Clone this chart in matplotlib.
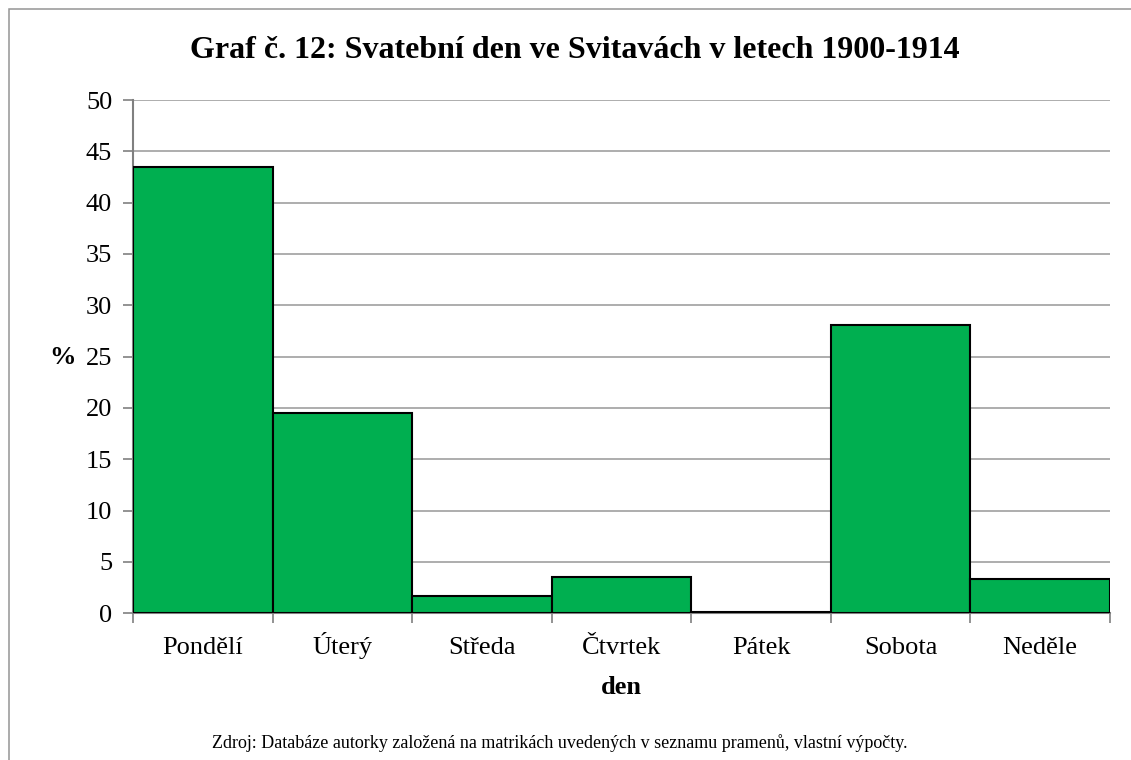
import matplotlib
matplotlib.use("Agg")
import matplotlib.pyplot as plt
from matplotlib.patches import Rectangle
import numpy as np

categories = ["Pondělí", "Úterý", "Středa", "Čtvrtek", "Pátek", "Sobota", "Neděle"]
values = [43.5, 19.5, 1.7, 3.5, 0.1, 28.1, 3.3]
yticks = [0, 5, 10, 15, 20, 25, 30, 35, 40, 45, 50]

plt.rcParams['font.family'] = ['Liberation Serif', 'DejaVu Serif']

fig = plt.figure(figsize=(11.31, 7.6), dpi=100)
ax = fig.add_axes([133/1131, 1-613.3/760, (1110-133)/1131, (613.3-100)/760])

x = np.arange(len(categories))
ax.bar(x, values, width=1.0, color='#00AF50', edgecolor='black', linewidth=1.5, zorder=3)
ax.set_xlim(-0.5, len(categories) - 0.5)
ax.set_ylim(0, 50)
ax.set_yticks(yticks)
ax.set_yticklabels([str(v) for v in yticks], fontsize=19)
ax.yaxis.grid(True, color='#A0A0A0', linewidth=1.2, zorder=0)
ax.set_xticks(x)
ax.set_xticklabels(categories, fontsize=19)
ax.tick_params(axis='x', length=0, pad=29)
for lbl in ax.get_xticklabels():
    lbl.set_va('baseline')
ax.set_xticks(np.arange(-0.5, len(categories)), minor=True)
ax.tick_params(axis='x', which='minor', length=7, color='#808080', width=1.2)
ax.tick_params(axis='y', length=7, color='#808080', width=1.2, pad=8)
for s in ['top', 'right']:
    ax.spines[s].set_visible(False)
for s in ['left', 'bottom']:
    ax.spines[s].set_color('#808080')
    ax.spines[s].set_linewidth(1.5)

fig.text(621/1131, 1-688/760, "den", ha='center', va='center', fontsize=19, fontweight='bold')
fig.text(62/1131, 1-358/760, "%", ha='center', va='center', fontsize=19, fontweight='bold')

fig.text(575/1131, 1-50/760, "Graf č. 12: Svatební den ve Svitavách v letech 1900-1914",
         ha='center', va='center', fontsize=23, fontweight='bold')
fig.text(560/1131, 1-743/760,
         "Zdroj: Databáze autorky založená na matrikách uvedených v seznamu pramenů, vlastní výpočty.",
         ha='center', va='center', fontsize=13)

fig.patches.append(Rectangle((8.5/1131, -0.1), 1.1, 1.1 - 9.5/760, transform=fig.transFigure,
                             fill=False, edgecolor='#959595', linewidth=1.1))

fig.savefig("out.png", dpi=100)
